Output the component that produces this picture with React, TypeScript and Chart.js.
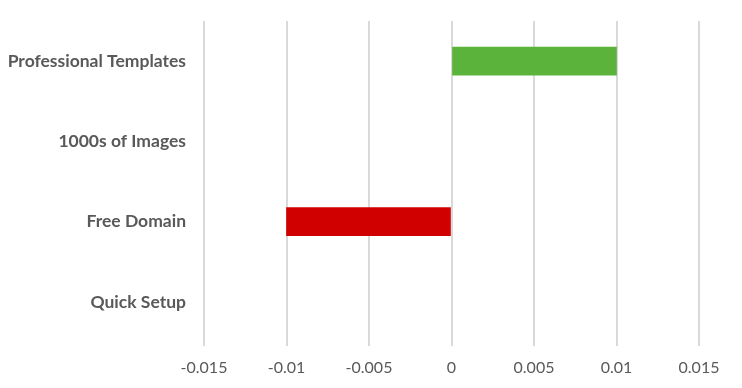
import React, { useEffect, useRef } from "react";
import { Chart, registerables } from "chart.js";

Chart.register(...registerables);

const categories = ["Professional Templates", "1000s of Images", "Free Domain", "Quick Setup"];
const values = [0.01, 0, -0.01, 0];
const barColors = ["#5BB33B", "rgba(0,0,0,0)", "#D00000", "rgba(0,0,0,0)"];
const axisMin = -0.015;
const axisMax = 0.015;
const axisStep = 0.005;

export default function App() {
  const ref = useRef<HTMLCanvasElement | null>(null);

  useEffect(() => {
    document.body.style.margin = "0";
    const canvas = ref.current;
    if (!canvas) return;
    const chart = new Chart(canvas, {
      type: "bar",
      data: {
        labels: categories,
        datasets: [
          {
            data: values,
            backgroundColor: barColors,
            borderWidth: 0,
            barThickness: 28,
          },
        ],
      },
      options: {
        indexAxis: "y",
        animation: false,
        responsive: false,
        maintainAspectRatio: false,
        layout: { padding: { top: 21, right: 43, bottom: 0, left: 0 } },
        plugins: { legend: { display: false }, tooltip: { enabled: false } },
        scales: {
          x: {
            min: axisMin,
            max: axisMax,
            border: { display: false },
            grid: { color: "#D9D9D9", lineWidth: 2, tickLength: 4, tickColor: "#D9D9D9" },
            ticks: {
              stepSize: axisStep,
              padding: 12,
              color: "#595959",
              font: { family: "Lato", size: 16 },
              maxRotation: 0,
              callback: (v: any) => {
                const n = Number(Number(v).toFixed(3));
                return n === 0 ? "0" : String(n);
              },
            },
            afterFit: (s: any) => {
              s.height = 46;
              s.paddingLeft = 0;
              s.paddingRight = 0;
            },
          },
          y: {
            border: { display: false },
            grid: { display: false, drawTicks: false },
            ticks: {
              padding: 18,
              color: "#595959",
              font: { family: "Lato", size: 17.5, weight: "bold" },
            },
            afterFit: (s: any) => {
              s.width = 204;
              s.paddingTop = 0;
              s.paddingBottom = 0;
            },
          },
        },
      },
    });
    return () => chart.destroy();
  }, []);

  return (
    <div style={{ width: 742, height: 388 }}>
      <canvas ref={ref} width={742} height={388} style={{ display: "block" }} />
    </div>
  );
}
